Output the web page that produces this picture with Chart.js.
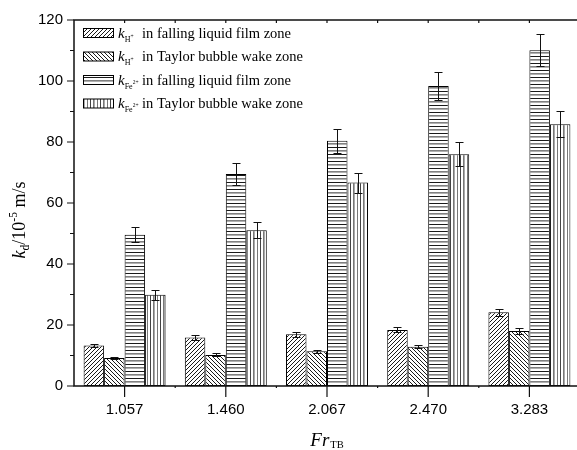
<!DOCTYPE html>
<html>
<head>
<meta charset="utf-8">
<script src="https://cdn.jsdelivr.net/npm/chart.js@4.4.1/dist/chart.umd.min.js"></script>
<style>
html,body{margin:0;padding:0;background:#fff;overflow:hidden;}
canvas{display:block;}
</style>
</head>
<body>
<canvas id="c" width="580" height="450"></canvas>
<script>
// ---- data ----
const categories = ['1.057', '1.460', '2.067', '2.470', '3.283'];
const kH_film      = [13.3, 15.9, 17.0, 18.4, 24.2];
const kH_film_err  = [0.6, 0.8, 0.8, 0.8, 1.1];
const kH_wake      = [9.2, 10.2, 11.4, 12.9, 18.0];
const kH_wake_err  = [0.4, 0.5, 0.5, 0.5, 0.9];
const kFe_film     = [49.6, 69.5, 80.4, 98.4, 110.1];
const kFe_film_err = [2.5, 3.5, 4.0, 4.7, 5.3];
const kFe_wake     = [29.9, 51.1, 66.7, 76.0, 85.8];
const kFe_wake_err = [1.6, 2.7, 3.3, 3.9, 4.3];
const yTicks = [0, 20, 40, 60, 80, 100, 120];
const seriesSub = ['H', 'H', 'Fe', 'Fe'];
const seriesSup = ['+', '+', '2+', '2+'];
const seriesZone = ['in falling liquid film zone', 'in Taylor bubble wake zone', 'in falling liquid film zone', 'in Taylor bubble wake zone'];

const SERIF = '"Liberation Serif", "Times New Roman", serif';
const SANS = '"Liberation Sans", Arial, Helvetica, sans-serif';

// ---- patterns ----
function makePattern(kind) {
  const c = document.createElement('canvas');
  const g = c.getContext('2d');
  if (kind === 'fwd' || kind === 'back') {
    c.width = 4; c.height = 4;
    g.fillStyle = '#fff'; g.fillRect(0, 0, 4, 4);
    g.strokeStyle = '#000'; g.lineWidth = 0.9;
    g.beginPath();
    if (kind === 'fwd') {
      g.moveTo(-1, 5); g.lineTo(5, -1);
      g.moveTo(-1, 1); g.lineTo(1, -1);
      g.moveTo(3, 5); g.lineTo(5, 3);
    } else {
      g.moveTo(-1, -1); g.lineTo(5, 5);
      g.moveTo(3, -1); g.lineTo(5, 1);
      g.moveTo(-1, 3); g.lineTo(1, 5);
    }
    g.stroke();
  } else if (kind === 'horiz') {
    c.width = 4; c.height = 7;
    g.fillStyle = '#fff'; g.fillRect(0, 0, 4, 7);
    g.fillStyle = '#1a1a1a'; g.fillRect(0, 0, 4, 1);
    g.fillStyle = '#808080'; g.fillRect(0, 3, 4, 1);
    g.fillStyle = '#b0b0b0'; g.fillRect(0, 4, 4, 1);
  } else {
    c.width = 10; c.height = 4;
    g.fillStyle = '#fff'; g.fillRect(0, 0, 10, 4);
    g.fillStyle = '#444'; g.fillRect(0, 0, 1, 4);
    g.fillStyle = '#777'; g.fillRect(3, 0, 1, 4);
    g.fillStyle = '#aaa'; g.fillRect(4, 0, 1, 4);
    g.fillStyle = '#777'; g.fillRect(7, 0, 1, 4);
  }
  return g.createPattern(c, 'repeat');
}
const ctx0 = document.getElementById('c').getContext('2d');
const patterns = [makePattern('fwd'), makePattern('back'), makePattern('horiz'), makePattern('vert')];

const seriesValues = [kH_film, kH_wake, kFe_film, kFe_wake];
const seriesErrors = [kH_film_err, kH_wake_err, kFe_film_err, kFe_wake_err];

// ---- rich text helper ----
function drawRich(ctx, x, y, parts) {
  let cx = x;
  for (const p of parts) {
    ctx.font = (p.i ? 'italic ' : '') + p.s + 'px ' + SERIF;
    ctx.fillText(p.t, cx, y + (p.dy || 0));
    cx += ctx.measureText(p.t).width + (p.gap || 0);
  }
  return cx - x;
}
function richWidth(ctx, parts) {
  let w = 0;
  for (const p of parts) {
    ctx.font = (p.i ? 'italic ' : '') + p.s + 'px ' + SERIF;
    w += ctx.measureText(p.t).width + (p.gap || 0);
  }
  return w;
}

const decorPlugin = {
  id: 'decor',
  afterDatasetsDraw(chart) {
    const ctx = chart.ctx;
    const ys = chart.scales.y, xs = chart.scales.x;
    const area = chart.chartArea;
    ctx.save();
    // error bars
    ctx.strokeStyle = '#111';
    ctx.lineWidth = 1;
    seriesErrors.forEach((errs, di) => {
      const meta = chart.getDatasetMeta(di);
      meta.data.forEach((el, i) => {
        const v = seriesValues[di][i], e = errs[i];
        const x = Math.round(el.x) + 0.5;
        const yt = Math.round(ys.getPixelForValue(v + e)) + 0.5;
        const yb = Math.round(ys.getPixelForValue(v - e)) + 0.5;
        ctx.beginPath();
        ctx.moveTo(x, yt); ctx.lineTo(x, yb);
        ctx.moveTo(x - 4, yt); ctx.lineTo(x + 4, yt);
        ctx.moveTo(x - 4, yb); ctx.lineTo(x + 4, yb);
        ctx.stroke();
      });
    });
    // axes frame (left, bottom, top)
    ctx.strokeStyle = '#111';
    ctx.lineWidth = 1.5;
    ctx.beginPath();
    ctx.moveTo(area.left, area.top); ctx.lineTo(area.left, area.bottom);
    ctx.moveTo(area.left - 0.75, area.bottom); ctx.lineTo(chart.width, area.bottom);
    ctx.moveTo(area.left - 0.75, area.top); ctx.lineTo(chart.width, area.top);
    ctx.stroke();
    // y ticks (major outward, minor outward shorter)
    ctx.lineWidth = 1.2;
    ctx.beginPath();
    for (let k = 0; k < yTicks.length; k++) {
      const y = ys.getPixelForValue(yTicks[k]);
      ctx.moveTo(area.left - 7, y); ctx.lineTo(area.left, y);
      if (k < yTicks.length - 1) {
        const ym = ys.getPixelForValue((yTicks[k] + yTicks[k + 1]) / 2);
        ctx.moveTo(area.left - 4, ym); ctx.lineTo(area.left, ym);
      }
    }
    // x ticks
    const step = xs.getPixelForValue(1) - xs.getPixelForValue(0);
    for (let i = 0; i < categories.length; i++) {
      const x = xs.getPixelForValue(i);
      ctx.moveTo(x, area.bottom); ctx.lineTo(x, area.bottom + 11);
      ctx.moveTo(x, area.top); ctx.lineTo(x, area.top + 3);
      if (i > 0) {
        const xm = x - step / 2;
        ctx.moveTo(xm, area.bottom); ctx.lineTo(xm, area.bottom + 2);
        ctx.moveTo(xm, area.top); ctx.lineTo(xm, area.top + 3);
      }
    }
    ctx.stroke();

    // legend
    ctx.fillStyle = '#000';
    ctx.textBaseline = 'alphabetic';
    ctx.textAlign = 'left';
    const rowY = [33, 56.5, 80, 103.5];
    for (let r = 0; r < 4; r++) {
      const cy = rowY[r];
      ctx.fillStyle = patterns[r];
      ctx.fillRect(83.5, cy - 4.5, 30, 9);
      ctx.strokeStyle = '#000'; ctx.lineWidth = 1;
      ctx.strokeRect(83.5, cy - 4.5, 30, 9);
      ctx.fillStyle = '#000';
      const base = cy + 4.5;
      drawRich(ctx, 118, base, [
        { t: 'k', s: 15, i: true },
        { t: seriesSub[r], s: 8, dy: 4 },
        { t: seriesSup[r], s: 5.5, dy: r < 2 ? 0 : -1 }
      ]);
      ctx.font = '14.5px ' + SERIF;
      ctx.fillText(seriesZone[r], 142, base);
    }

    // y-axis title (rotated)
    ctx.save();
    ctx.translate(25, 220);
    ctx.rotate(-Math.PI / 2);
    const yParts = [
      { t: 'k', s: 18, i: true },
      { t: 'd', s: 11.5, dy: 4 },
      { t: '/10', s: 18 },
      { t: '-5', s: 11.5, dy: -8 },
      { t: ' m/s', s: 18 }
    ];
    const yw = richWidth(ctx, yParts);
    drawRich(ctx, -yw / 2, 0, yParts);
    ctx.restore();

    // x-axis title
    const xParts = [
      { t: 'Fr', s: 19, i: true, gap: 1 },
      { t: 'TB', s: 10.5, dy: 2 }
    ];
    const xw = richWidth(ctx, xParts);
    drawRich(ctx, 327 - xw / 2, 446, xParts);
    ctx.restore();
  }
};

new Chart(ctx0, {
  type: 'bar',
  data: {
    labels: categories,
    datasets: seriesValues.map((vals, i) => ({
      label: 'k' + seriesSub[i] + seriesSup[i] + ' ' + seriesZone[i],
      data: vals,
      backgroundColor: patterns[i],
      borderColor: '#000',
      borderWidth: 1,
      borderSkipped: false,
      categoryPercentage: 0.81,
      barPercentage: 1.0
    }))
  },
  options: {
    responsive: false,
    animation: false,
    devicePixelRatio: 1,
    layout: { padding: { top: 14, left: 0, right: 0, bottom: 0 } },
    plugins: { legend: { display: false }, tooltip: { enabled: false } },
    scales: {
      x: {
        grid: { display: false, drawTicks: false },
        border: { display: false },
        ticks: { color: '#000', font: { family: SANS, size: 15 }, padding: 15, maxRotation: 0 },
        afterFit(s) { s.height = 64; }
      },
      y: {
        min: 0, max: 120,
        grid: { display: false, drawTicks: false },
        border: { display: false },
        ticks: { stepSize: 20, color: '#000', font: { family: SANS, size: 15 }, padding: 11 },
        afterFit(s) { s.width = 74; }
      }
    }
  },
  plugins: [decorPlugin]
});
</script>
</body>
</html>
